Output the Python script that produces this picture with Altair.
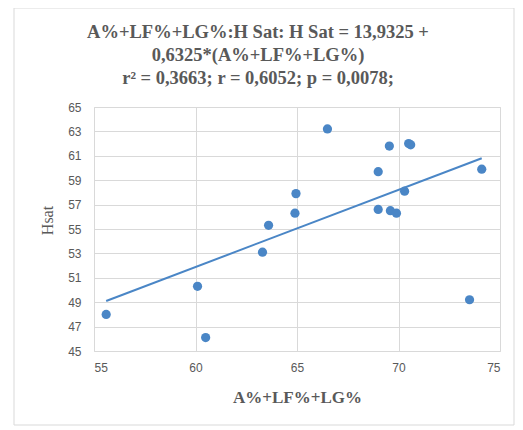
import altair as alt
import pandas as pd

# Data
x_vals = [55.6, 60.5, 60.1, 63.3, 63.6, 64.9, 64.95, 66.5, 69.55, 70.5, 70.6,
          69.0, 70.3, 69.0, 69.6, 69.9, 74.1, 73.5]
y_vals = [48.0, 46.1, 50.3, 53.1, 55.3, 56.3, 57.9, 63.2, 61.8, 62.0, 61.9,
          59.7, 58.1, 56.6, 56.5, 56.3, 59.9, 49.2]
intercept = 13.9325
slope = 0.6325
x_ticks = [55, 60, 65, 70, 75]
y_ticks = [45, 47, 49, 51, 53, 55, 57, 59, 61, 63, 65]
title_lines = ["A%+LF%+LG%:H Sat: H Sat = 13,9325 +",
               "0,6325*(A%+LF%+LG%)",
               "r\u00b2 = 0,3663;  r = 0,6052; p = 0,0078;"]

pts = pd.DataFrame({"x": x_vals, "y": y_vals})
xmin, xmax = min(x_vals), max(x_vals)
fit = pd.DataFrame({"x": [xmin, xmax],
                    "y": [intercept + slope * xmin, intercept + slope * xmax]})

grey = "#595959"
blue = "#4a86c6"

xscale = alt.Scale(domain=[55, 75], nice=False, zero=False)
yscale = alt.Scale(domain=[45, 65], nice=False, zero=False)

xaxis = alt.Axis(values=x_ticks, tickCount=len(x_ticks), grid=True,
                 gridColor="#d9d9d9", domain=False,
                 ticks=False, labelFont="Liberation Sans", labelFontSize=12,
                 labelColor=grey, labelPadding=11, labelOverlap=False,
                 title="A%+LF%+LG%", titleFont="Liberation Serif",
                 titleFontSize=17, titleFontWeight="bold", titleColor=grey,
                 titleBaseline="middle", titleY=46, titleX=203)
yaxis = alt.Axis(values=y_ticks, tickCount=len(y_ticks), grid=True,
                 gridColor="#d9d9d9", domain=False,
                 ticks=False, labelFont="Liberation Sans", labelFontSize=12,
                 labelColor=grey, labelPadding=13, labelOverlap=False,
                 title="Hsat", titleFont="Liberation Serif", titleFontSize=16,
                 titleFontWeight="normal", titleColor=grey,
                 titleBaseline="middle", titleX=-47, titleY=113)

border = alt.Chart(pd.DataFrame({"a": [0]})).mark_rect(
    fill="transparent", stroke="#d9d9d9", strokeWidth=1
).encode(x=alt.value(-80), x2=alt.value(420), y=alt.value(-99), y2=alt.value(318))

points = alt.Chart(pts).mark_circle(size=85, color=blue, opacity=1).encode(
    x=alt.X("x:Q", scale=xscale, axis=xaxis),
    y=alt.Y("y:Q", scale=yscale, axis=yaxis),
)

line = alt.Chart(fit).mark_line(color=blue, strokeWidth=2).encode(
    x=alt.X("x:Q", scale=xscale, axis=xaxis),
    y=alt.Y("y:Q", scale=yscale, axis=yaxis),
)

chart = alt.layer(border, points, line).properties(
    width=406, height=244,
    title=alt.Title(title_lines, font="Liberation Serif", fontSize=18.5,
                    fontWeight="bold", color=grey, anchor="middle",
                    dx=-39, dy=98, lineHeight=23, offset=18),
    autosize=alt.AutoSizeParams(type="none"),
    padding={"left": 86, "top": 99, "right": 15, "bottom": 80},
).configure_view(stroke=None).configure(background="white")

chart.save("out.html", embed_options={"renderer": "svg", "actions": False})
